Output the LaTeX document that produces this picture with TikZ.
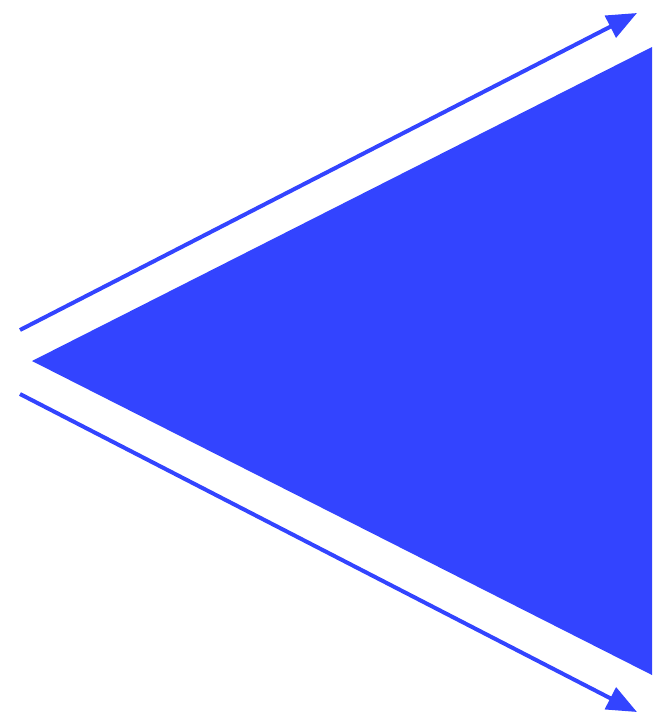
\documentclass[tikz,border=0pt]{standalone}
\usetikzlibrary{arrows.meta}
\definecolor{tblue}{RGB}{51,68,255}
\begin{document}
\begin{tikzpicture}[x=1pt,y=-1pt,
  arr/.style={draw=tblue,line width=4pt,-{Triangle[length=30pt,width=24pt]}}]
\useasboundingbox (0,0) rectangle (659,721);
\coordinate (L) at (32,361);
\coordinate (TR) at (652,47);
\coordinate (BR) at (652,675);
\fill[tblue] (L) -- (TR) -- (BR) -- cycle;
\coordinate (a1) at (20,330);
\coordinate (a2) at (637,13);
\coordinate (b1) at (20,394);
\coordinate (b2) at (637,712);
\draw[arr] (a1) -- (a2);
\draw[arr] (b1) -- (b2);
\end{tikzpicture}
\end{document}
